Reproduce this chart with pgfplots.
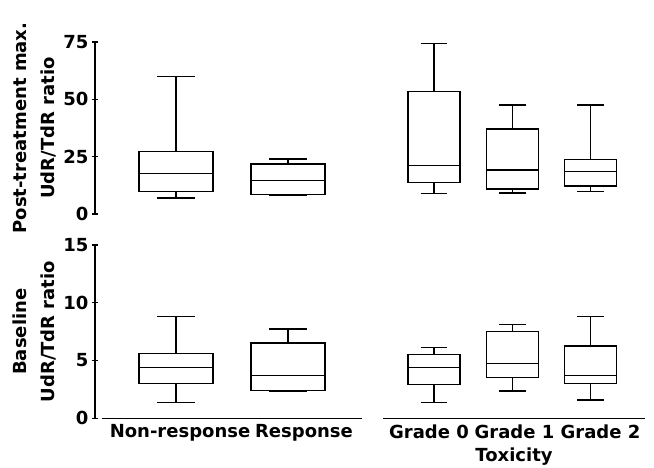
\documentclass[border=0pt]{standalone}
\usepackage{pgfplots}
\pgfplotsset{compat=1.18}
\usepgfplotslibrary{statistics}
\usepackage{fontspec}
\setmainfont{DejaVu Sans}
\begin{document}
\begin{tikzpicture}[x=1pt,y=1pt]
\pgfplotsset{
  every axis/.append style={
    scale only axis, clip=false,
    font=\fontsize{18}{28}\selectfont\bfseries,
    tick label style={font=\fontsize{18}{20}\selectfont\bfseries},
    label style={font=\fontsize{18}{28}\selectfont\bfseries},
    /pgf/number format/assume math mode=true,
    axis line style={line width=1.3pt},
    every outer x axis line/.append style={-},
    every outer y axis line/.append style={-},
    every tick/.style={black, line width=1.3pt},
    tick align=inside, major tick length=6pt,
    boxplot/draw direction=y,
    boxplot/every box/.style={draw=black, line width=1.3pt},
    boxplot/every median/.style={draw=black, line width=1.3pt},
    boxplot/every whisker/.style={draw=black, line width=1.3pt},
  },
  every axis plot/.append style={black, line width=1.3pt},
  leftpanel/.style={width=267pt, xmin=0.277, xmax=2.661,
    boxplot/box extend=0.66, boxplot/whisker extend=0.34},
  rightpanel/.style={width=262pt, xmin=0.349, xmax=3.695,
    boxplot/box extend=0.664, boxplot/whisker extend=0.34},
}
% ---------- top left ----------
\begin{axis}[leftpanel, at={(95pt,-214pt)}, anchor=south west, height=172pt,
  ymin=0, ymax=75, ytick={0,25,50,75},
  axis x line=none, axis y line=left,
  y axis line style={-},
  ylabel={Post-treatment max.\\UdR/TdR ratio}, ylabel style={align=center}]
\addplot[boxplot prepared={draw position=1, lower whisker=7.0, lower quartile=9.7,
  median=17.6, upper quartile=27.3, upper whisker=60.0}] coordinates {};
\addplot[boxplot prepared={draw position=2, lower whisker=8.0, lower quartile=8.6,
  median=14.5, upper quartile=21.8, upper whisker=24.0}] coordinates {};
\end{axis}
% ---------- top right ----------
\begin{axis}[rightpanel, at={(383pt,-214pt)}, anchor=south west, height=172pt,
  ymin=0, ymax=75, hide axis]
\addplot[boxplot prepared={draw position=1, lower whisker=8.9, lower quartile=13.7,
  median=21.2, upper quartile=53.5, upper whisker=74.4}] coordinates {};
\addplot[boxplot prepared={draw position=2, lower whisker=9.2, lower quartile=10.9,
  median=19.2, upper quartile=37.1, upper whisker=47.5}] coordinates {};
\addplot[boxplot prepared={draw position=3, lower whisker=9.9, lower quartile=12.2,
  median=18.5, upper quartile=23.7, upper whisker=47.5}] coordinates {};
\end{axis}
% ---------- bottom left ----------
\begin{axis}[leftpanel, at={(95pt,-418.3pt)}, anchor=south west, height=173.3pt,
  ymin=0, ymax=15, ytick={0,5,10,15},
  axis x line=bottom, axis y line=left,
  x axis line style={-, shorten <=6.7pt},
  y axis line style={-},
  xtick={1.036,2.143}, xticklabels={Non-response,Response},
  xtick style={draw=none},
  ylabel={Baseline\\UdR/TdR ratio}, ylabel style={align=center}]
\addplot[boxplot prepared={draw position=1, lower whisker=1.35, lower quartile=3.03,
  median=4.41, upper quartile=5.62, upper whisker=8.79}] coordinates {};
\addplot[boxplot prepared={draw position=2, lower whisker=2.30, lower quartile=2.42,
  median=3.69, upper quartile=6.51, upper whisker=7.73}] coordinates {};
\end{axis}
% ---------- bottom right ----------
\begin{axis}[rightpanel, at={(383pt,-418.3pt)}, anchor=south west, height=173.3pt,
  ymin=0, ymax=15,
  axis x line=bottom, axis y line=none,
  x axis line style={-},
  xtick={0.936,2.028,3.126}, xticklabels={Grade 0,Grade 1,Grade 2},
  xtick style={draw=none},
  xlabel={Toxicity}, xlabel style={yshift=-2pt}]
\addplot[boxplot prepared={draw position=1, lower whisker=1.35, lower quartile=2.94,
  median=4.41, upper quartile=5.54, upper whisker=6.11}] coordinates {};
\addplot[boxplot prepared={draw position=2, lower whisker=2.36, lower quartile=3.55,
  median=4.72, upper quartile=7.49, upper whisker=8.13}] coordinates {};
\addplot[boxplot prepared={draw position=3, lower whisker=1.58, lower quartile=3.03,
  median=3.69, upper quartile=6.25, upper whisker=8.82}] coordinates {};
\end{axis}
\pgfresetboundingbox
\path[use as bounding box] (0pt,0pt) rectangle (654pt,-468pt);
\end{tikzpicture}
\end{document}
